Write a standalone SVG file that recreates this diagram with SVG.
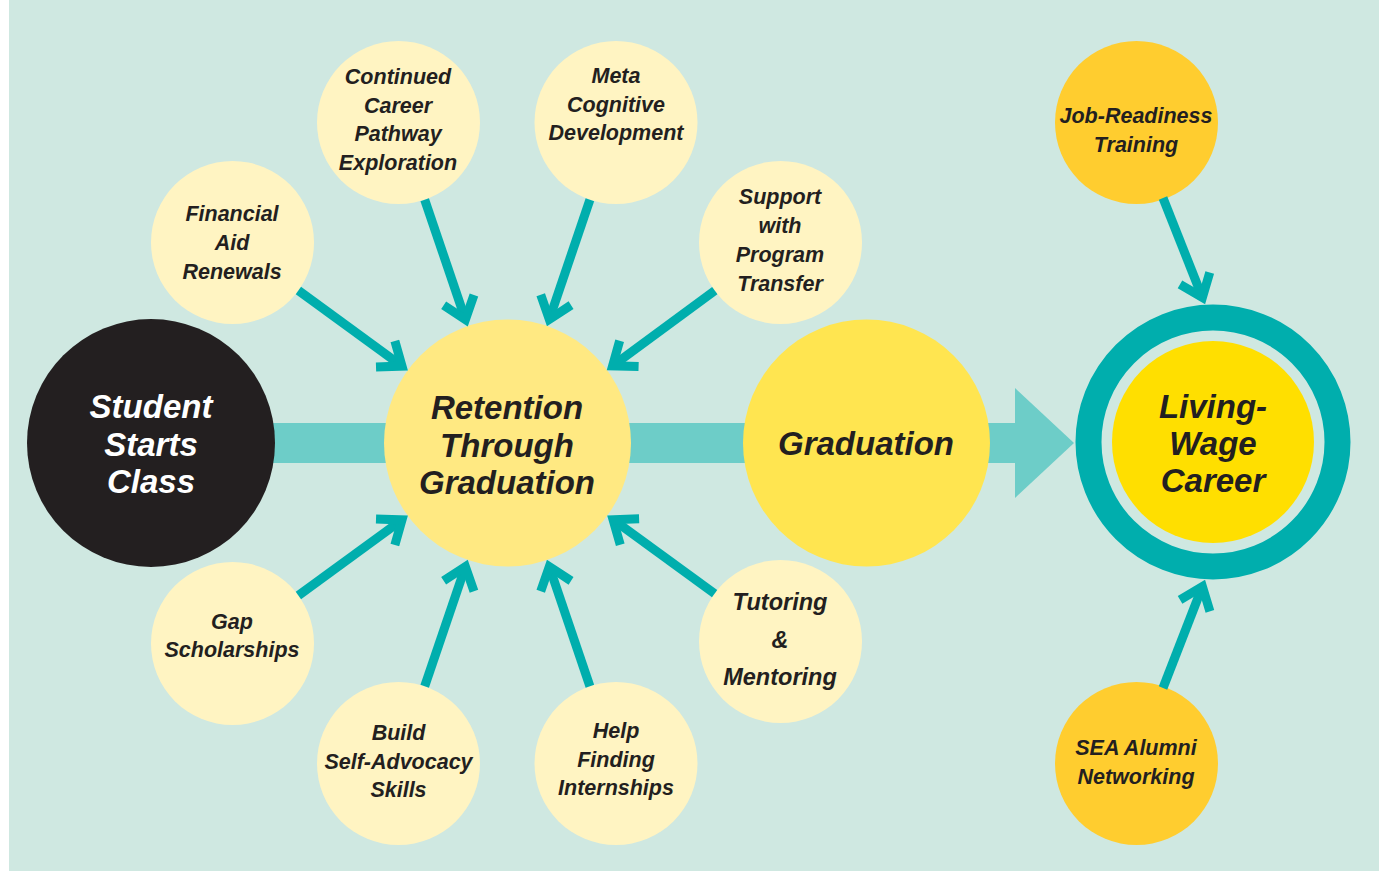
<svg xmlns="http://www.w3.org/2000/svg" width="1384" height="871" viewBox="0 0 1384 871">
<style>
.t{font-family:"Liberation Sans",Arial,sans-serif;font-weight:bold;font-style:italic;text-anchor:middle;fill:#231F20}
.s{font-size:21.5px}
.b{font-size:33px}
.w{fill:#FFFFFF}
.sm{fill:#FFF4C2}
.or{fill:#FFCD2F}
.ar{fill:none;stroke:#00AEAD;stroke-width:9;marker-end:url(#head)}
</style>
<defs>
<marker id="head" markerUnits="userSpaceOnUse" viewBox="-30 -20 40 40" markerWidth="40" markerHeight="40" refX="0" refY="0" orient="auto">
<path d="M-20.5,-16 L0,0 L-20.5,16" fill="none" stroke="#00AEAD" stroke-width="9" stroke-linejoin="miter" stroke-miterlimit="10"/>
</marker>
</defs>
<rect x="0" y="0" width="1384" height="871" fill="#FFFFFF"/>
<rect x="9" y="0" width="1370" height="871" fill="#CFE8E1"/>
<g id="flow-band">
<rect x="270" y="423" width="750" height="40" fill="#6DCDC8"/>
<polygon points="1015,388 1074,443 1015,498" fill="#6DCDC8"/>
</g>
<g id="student"><circle cx="151" cy="443" r="124" fill="#231F20"/>
<text class="t b w" x="151" y="418">Student</text><text class="t b w" x="151" y="456">Starts</text><text class="t b w" x="151" y="493">Class</text></g>
<g id="retention"><circle cx="507.5" cy="443" r="123.5" fill="#FFE982"/>
<text class="t b" x="507" y="419">Retention</text><text class="t b" x="507" y="457">Through</text><text class="t b" x="507" y="494">Graduation</text></g>
<g id="graduation"><circle cx="866.5" cy="443" r="123.5" fill="#FFE550"/>
<text class="t b" x="866" y="455">Graduation</text></g>
<g id="career"><circle cx="1213" cy="442" r="124.5" fill="none" stroke="#00AEAD" stroke-width="26"/>
<circle cx="1213" cy="442" r="101" fill="#FFDF00"/>
<text class="t b" x="1213" y="418">Living-</text><text class="t b" x="1213" y="455">Wage</text><text class="t b" x="1213" y="492">Career</text></g>
<g id="financial"><circle class="sm" cx="232.5" cy="242.5" r="81.5"/>
<text class="t s" x="232" y="221">Financial</text><text class="t s" x="232" y="250">Aid</text><text class="t s" x="232" y="279">Renewals</text></g>
<g id="continued"><circle class="sm" cx="398.5" cy="122.5" r="81.5"/>
<text class="t s" x="398" y="84">Continued</text><text class="t s" x="398" y="113">Career</text><text class="t s" x="398" y="141">Pathway</text><text class="t s" x="398" y="170">Exploration</text></g>
<g id="meta"><circle class="sm" cx="616" cy="122.5" r="81.5"/>
<text class="t s" x="616" y="83">Meta</text><text class="t s" x="616" y="112">Cognitive</text><text class="t s" x="616" y="140">Development</text></g>
<g id="support"><circle class="sm" cx="780.5" cy="242.5" r="81.5"/>
<text class="t s" x="780" y="204">Support</text><text class="t s" x="780" y="233">with</text><text class="t s" x="780" y="262">Program</text><text class="t s" x="780" y="291">Transfer</text></g>
<g id="gap"><circle class="sm" cx="232.5" cy="643.5" r="81.5"/>
<text class="t s" x="232" y="629">Gap</text><text class="t s" x="232" y="657">Scholarships</text></g>
<g id="build"><circle class="sm" cx="398.5" cy="763.5" r="81.5"/>
<text class="t s" x="398.5" y="740">Build</text><text class="t s" x="398.5" y="769">Self-Advocacy</text><text class="t s" x="398.5" y="797">Skills</text></g>
<g id="help"><circle class="sm" cx="616" cy="763.5" r="81.5"/>
<text class="t s" x="616" y="738">Help</text><text class="t s" x="616" y="767">Finding</text><text class="t s" x="616" y="795">Internships</text></g>
<g id="tutoring"><circle class="sm" cx="780.5" cy="641.5" r="81.5"/>
<text class="t" style="font-size:23.5px" x="780" y="610">Tutoring</text><text class="t" style="font-size:23.5px" x="780" y="648">&amp;</text><text class="t" style="font-size:23.5px" x="780" y="685">Mentoring</text></g>
<g id="job"><circle class="or" cx="1136.5" cy="122.5" r="81.5"/>
<text class="t s" x="1136" y="123">Job-Readiness</text><text class="t s" x="1136" y="152">Training</text></g>
<g id="alumni"><circle class="or" cx="1136.5" cy="763.5" r="81.5"/>
<text class="t s" x="1136" y="755">SEA Alumni</text><text class="t s" x="1136" y="784">Networking</text></g>
<g id="connectors">
<line class="ar" x1="298.4" y1="290.5" x2="402.0" y2="366.1"/>
<line class="ar" x1="298.4" y1="595.5" x2="402.0" y2="519.9"/>
<line class="ar" x1="714.8" y1="290.7" x2="612.6" y2="365.8"/>
<line class="ar" x1="714.6" y1="593.6" x2="613.1" y2="519.7"/>
<line class="ar" x1="424.7" y1="199.7" x2="465.4" y2="319.5"/>
<line class="ar" x1="589.9" y1="199.7" x2="549.3" y2="319.4"/>
<line class="ar" x1="424.7" y1="686.3" x2="465.4" y2="566.6"/>
<line class="ar" x1="589.9" y1="686.3" x2="549.3" y2="566.6"/>
<line class="ar" x1="1163" y1="198" x2="1202.4" y2="297.5"/>
<line class="ar" x1="1163" y1="688" x2="1202.4" y2="586.5"/>
</g>
</svg>
